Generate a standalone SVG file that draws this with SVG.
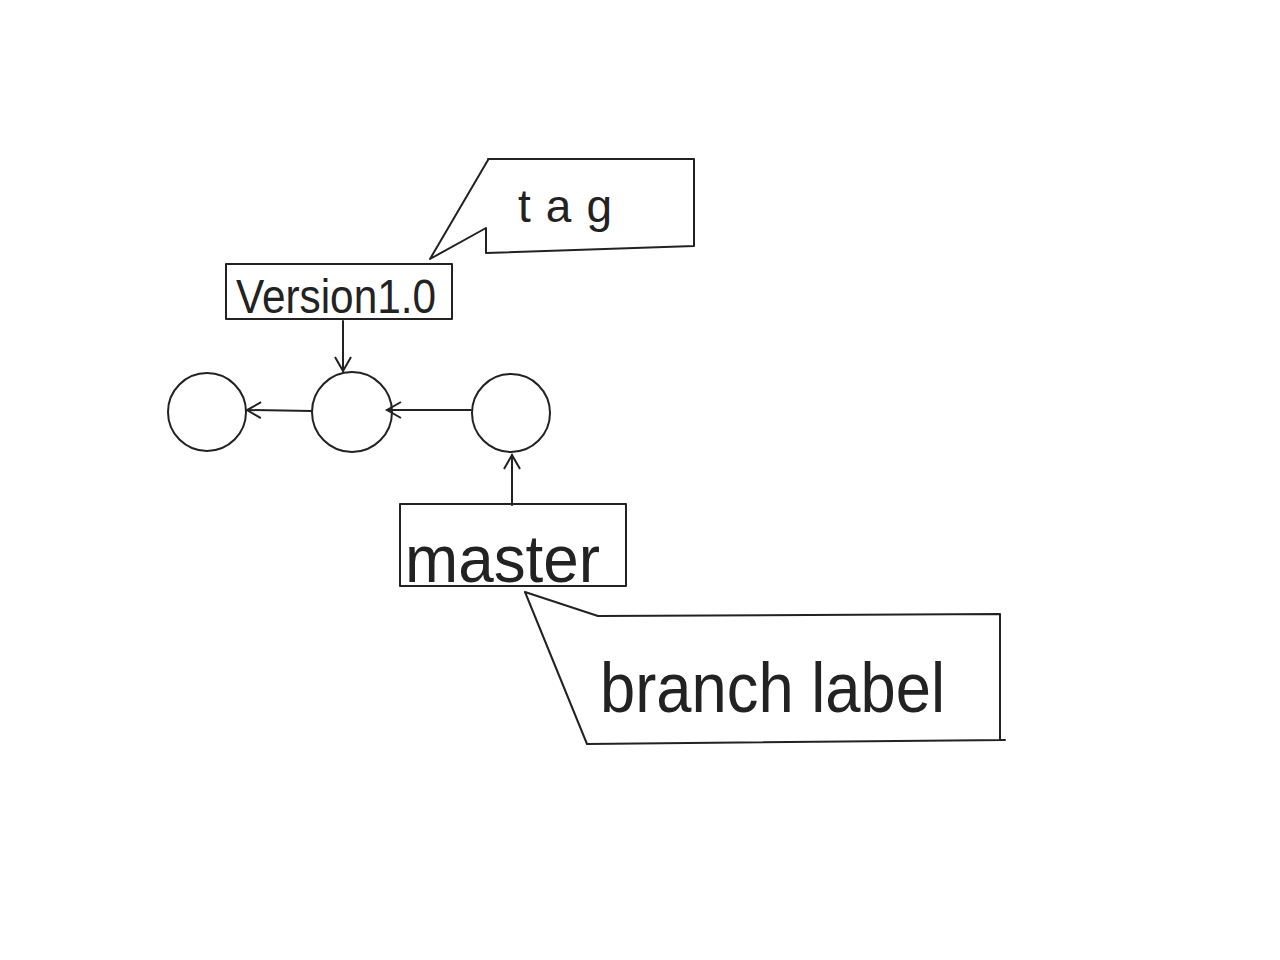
<svg xmlns="http://www.w3.org/2000/svg" width="1280" height="960" viewBox="0 0 1280 960">
<style>
.s{fill:none;stroke:#222;stroke-width:2;stroke-linecap:round;stroke-linejoin:round}
.t{font-family:"Liberation Sans","DejaVu Sans",sans-serif;fill:#222}
</style>
<defs>
<marker id="ah" viewBox="0 0 20 20" refX="18" refY="10" markerWidth="20" markerHeight="20" markerUnits="userSpaceOnUse" orient="auto">
<path d="M4,2 L18,10 L4,18" fill="none" stroke="#222" stroke-width="2"/>
</marker>
</defs>
<rect width="1280" height="960" fill="#fff"/>
<g id="tag">
<path class="s" d="M488,159 L694,159 L694,246 L486,253 L486,228 L430,259 L488,160"/>
<text class="t" x="518" y="222" font-size="46" textLength="94" lengthAdjust="spacing">tag</text>
</g>
<g id="version">
<rect class="s" x="226" y="264" width="226" height="55"/>
<text class="t" x="236" y="313" font-size="48" textLength="200" lengthAdjust="spacingAndGlyphs">Version1.0</text>
</g>
<g id="commit1"><circle class="s" cx="207" cy="412" r="39"/></g>
<g id="commit2"><circle class="s" cx="352" cy="412" r="40"/></g>
<g id="commit3"><circle class="s" cx="511" cy="413" r="39"/></g>
<g id="master">
<rect class="s" x="400" y="504" width="226" height="82"/>
<text class="t" x="405" y="582" font-size="66" textLength="195" lengthAdjust="spacingAndGlyphs">master</text>
</g>
<g id="branchlabel">
<path class="s" d="M598,616 L1000,614 L1000,740 L1005,740 L587,744 L525,592 L598,616"/>
<text class="t" x="600" y="712" font-size="70" textLength="345" lengthAdjust="spacingAndGlyphs">branch label</text>
</g>
<g id="connectors">
<line class="s" x1="343" y1="321" x2="343" y2="371" marker-end="url(#ah)"/>
<line class="s" x1="312" y1="411" x2="247" y2="410" marker-end="url(#ah)"/>
<line class="s" x1="471" y1="410" x2="387" y2="410" marker-end="url(#ah)"/>
<line class="s" x1="512" y1="505" x2="512" y2="455" marker-end="url(#ah)"/>
</g>
</svg>
